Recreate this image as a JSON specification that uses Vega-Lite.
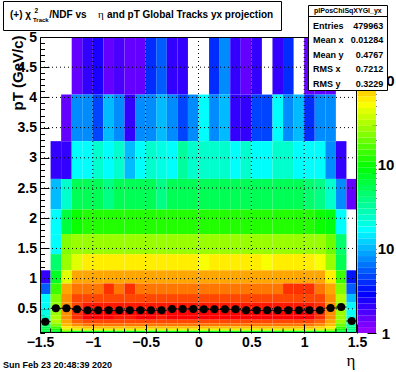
{
"$schema":"https://vega.github.io/schema/vega-lite/v6.json",
"width":317,"height":296,
"autosize":{"type":"none"},
"padding":{"left":40,"top":37,"right":39,"bottom":39},
"background":"white",
"config":{"view":{"stroke":null},
"axis":{"grid":false,"domain":false,"zindex":1,"tickColor":"black","tickWidth":1,"labelColor":"black","labelFont":"Liberation Sans","labelFontWeight":"bold","labelFlush":false,"labelOverlap":false,"labelBound":false,"titleColor":"black","titleFont":"Liberation Sans"},
"text":{"font":"Liberation Sans","color":"black"}},
"datasets":{
"cells":[
{"x0":-1.2,"x1":-1.1,"y0":4.047,"y1":5,"n":1.5},{"x0":-1.1,"x1":-1,"y0":4.047,"y1":5,"n":2.08},{"x0":-1,"x1":-0.9,"y0":4.047,"y1":5,"n":2.44},{"x0":-0.9,"x1":-0.8,"y0":4.047,"y1":5,"n":1.5},{"x0":-0.8,"x1":-0.7,"y0":4.047,"y1":5,"n":1.76},{"x0":-0.7,"x1":-0.6,"y0":4.047,"y1":5,"n":1.5},{"x0":-0.6,"x1":-0.5,"y0":4.047,"y1":5,"n":1.5},{"x0":-0.5,"x1":-0.4,"y0":4.047,"y1":5,"n":3.97},{"x0":-0.4,"x1":-0.3,"y0":4.047,"y1":5,"n":5.5},{"x0":-0.3,"x1":-0.2,"y0":4.047,"y1":5,"n":2.08},{"x0":-0.2,"x1":-0.1,"y0":4.047,"y1":5,"n":2.08},{"x0":0.1,"x1":0.2,"y0":4.047,"y1":5,"n":3.97},{"x0":0.2,"x1":0.3,"y0":4.047,"y1":5,"n":7.6},{"x0":0.3,"x1":0.4,"y0":4.047,"y1":5,"n":2.08},{"x0":0.4,"x1":0.5,"y0":4.047,"y1":5,"n":1.5},{"x0":0.5,"x1":0.6,"y0":4.047,"y1":5,"n":2.08},{"x0":0.7,"x1":0.8,"y0":4.047,"y1":5,"n":2.08},{"x0":0.8,"x1":0.9,"y0":4.047,"y1":5,"n":3.97},{"x0":1,"x1":1.1,"y0":4.047,"y1":5,"n":1.5},{"x0":1.1,"x1":1.2,"y0":4.047,"y1":5,"n":1.5},{"x0":1.2,"x1":1.3,"y0":4.047,"y1":5,"n":1.5},
{"x0":-1.3,"x1":-1.2,"y0":3.276,"y1":4.047,"n":1.5},{"x0":-1.2,"x1":-1.1,"y0":3.276,"y1":4.047,"n":7.6},{"x0":-1.1,"x1":-1,"y0":3.276,"y1":4.047,"n":7.6},{"x0":-1,"x1":-0.9,"y0":3.276,"y1":4.047,"n":4.67},{"x0":-0.9,"x1":-0.8,"y0":3.276,"y1":4.047,"n":10.5},{"x0":-0.8,"x1":-0.7,"y0":3.276,"y1":4.047,"n":7.6},{"x0":-0.7,"x1":-0.6,"y0":3.276,"y1":4.047,"n":2.08},{"x0":-0.6,"x1":-0.5,"y0":3.276,"y1":4.047,"n":7.6},{"x0":-0.5,"x1":-0.4,"y0":3.276,"y1":4.047,"n":7.6},{"x0":-0.4,"x1":-0.3,"y0":3.276,"y1":4.047,"n":10.5},{"x0":-0.3,"x1":-0.2,"y0":3.276,"y1":4.047,"n":7.6},{"x0":-0.2,"x1":-0.1,"y0":3.276,"y1":4.047,"n":4.67},{"x0":-0.1,"x1":0,"y0":3.276,"y1":4.047,"n":7.6},{"x0":0,"x1":0.1,"y0":3.276,"y1":4.047,"n":17.1},{"x0":0.1,"x1":0.2,"y0":3.276,"y1":4.047,"n":7.6},{"x0":0.2,"x1":0.3,"y0":3.276,"y1":4.047,"n":10.5},{"x0":0.3,"x1":0.4,"y0":3.276,"y1":4.047,"n":2.08},{"x0":0.4,"x1":0.5,"y0":3.276,"y1":4.047,"n":2.08},{"x0":0.5,"x1":0.6,"y0":3.276,"y1":4.047,"n":4.67},{"x0":0.6,"x1":0.7,"y0":3.276,"y1":4.047,"n":4.67},{"x0":0.7,"x1":0.8,"y0":3.276,"y1":4.047,"n":17.1},{"x0":0.8,"x1":0.9,"y0":3.276,"y1":4.047,"n":7.6},{"x0":0.9,"x1":1,"y0":3.276,"y1":4.047,"n":10.5},{"x0":1,"x1":1.1,"y0":3.276,"y1":4.047,"n":3.97},{"x0":1.1,"x1":1.2,"y0":3.276,"y1":4.047,"n":7.6},{"x0":1.2,"x1":1.3,"y0":3.276,"y1":4.047,"n":7.6},
{"x0":-1.4,"x1":-1.3,"y0":2.651,"y1":3.276,"n":2.08},{"x0":-1.3,"x1":-1.2,"y0":2.651,"y1":3.276,"n":2.08},{"x0":-1.2,"x1":-1.1,"y0":2.651,"y1":3.276,"n":17.1},{"x0":-1.1,"x1":-1,"y0":2.651,"y1":3.276,"n":17.1},{"x0":-1,"x1":-0.9,"y0":2.651,"y1":3.276,"n":23.7},{"x0":-0.9,"x1":-0.8,"y0":2.651,"y1":3.276,"n":17.1},{"x0":-0.8,"x1":-0.7,"y0":2.651,"y1":3.276,"n":23.7},{"x0":-0.7,"x1":-0.6,"y0":2.651,"y1":3.276,"n":10.5},{"x0":-0.6,"x1":-0.5,"y0":2.651,"y1":3.276,"n":17.1},{"x0":-0.5,"x1":-0.4,"y0":2.651,"y1":3.276,"n":23.7},{"x0":-0.4,"x1":-0.3,"y0":2.651,"y1":3.276,"n":20.1},{"x0":-0.3,"x1":-0.2,"y0":2.651,"y1":3.276,"n":17.1},{"x0":-0.2,"x1":-0.1,"y0":2.651,"y1":3.276,"n":32.7},{"x0":-0.1,"x1":0,"y0":2.651,"y1":3.276,"n":23.7},{"x0":0,"x1":0.1,"y0":2.651,"y1":3.276,"n":23.7},{"x0":0.1,"x1":0.2,"y0":2.651,"y1":3.276,"n":23.7},{"x0":0.2,"x1":0.3,"y0":2.651,"y1":3.276,"n":23.7},{"x0":0.3,"x1":0.4,"y0":2.651,"y1":3.276,"n":17.1},{"x0":0.4,"x1":0.5,"y0":2.651,"y1":3.276,"n":23.7},{"x0":0.5,"x1":0.6,"y0":2.651,"y1":3.276,"n":17.1},{"x0":0.6,"x1":0.7,"y0":2.651,"y1":3.276,"n":17.1},{"x0":0.7,"x1":0.8,"y0":2.651,"y1":3.276,"n":23.7},{"x0":0.8,"x1":0.9,"y0":2.651,"y1":3.276,"n":23.7},{"x0":0.9,"x1":1,"y0":2.651,"y1":3.276,"n":17.1},{"x0":1,"x1":1.1,"y0":2.651,"y1":3.276,"n":17.1},{"x0":1.1,"x1":1.2,"y0":2.651,"y1":3.276,"n":17.1},{"x0":1.2,"x1":1.3,"y0":2.651,"y1":3.276,"n":7.6},{"x0":1.3,"x1":1.4,"y0":2.651,"y1":3.276,"n":2.08},
{"x0":-1.4,"x1":-1.3,"y0":2.146,"y1":2.651,"n":10.5},{"x0":-1.3,"x1":-1.2,"y0":2.146,"y1":2.651,"n":23.7},{"x0":-1.2,"x1":-1.1,"y0":2.146,"y1":2.651,"n":53.3},{"x0":-1.1,"x1":-1,"y0":2.146,"y1":2.651,"n":53.3},{"x0":-1,"x1":-0.9,"y0":2.146,"y1":2.651,"n":53.3},{"x0":-0.9,"x1":-0.8,"y0":2.146,"y1":2.651,"n":38.5},{"x0":-0.8,"x1":-0.7,"y0":2.146,"y1":2.651,"n":53.3},{"x0":-0.7,"x1":-0.6,"y0":2.146,"y1":2.651,"n":53.3},{"x0":-0.6,"x1":-0.5,"y0":2.146,"y1":2.651,"n":53.3},{"x0":-0.5,"x1":-0.4,"y0":2.146,"y1":2.651,"n":53.3},{"x0":-0.4,"x1":-0.3,"y0":2.146,"y1":2.651,"n":38.5},{"x0":-0.3,"x1":-0.2,"y0":2.146,"y1":2.651,"n":53.3},{"x0":-0.2,"x1":-0.1,"y0":2.146,"y1":2.651,"n":53.3},{"x0":-0.1,"x1":0,"y0":2.146,"y1":2.651,"n":53.3},{"x0":0,"x1":0.1,"y0":2.146,"y1":2.651,"n":53.3},{"x0":0.1,"x1":0.2,"y0":2.146,"y1":2.651,"n":53.3},{"x0":0.2,"x1":0.3,"y0":2.146,"y1":2.651,"n":53.3},{"x0":0.3,"x1":0.4,"y0":2.146,"y1":2.651,"n":53.3},{"x0":0.4,"x1":0.5,"y0":2.146,"y1":2.651,"n":53.3},{"x0":0.5,"x1":0.6,"y0":2.146,"y1":2.651,"n":53.3},{"x0":0.6,"x1":0.7,"y0":2.146,"y1":2.651,"n":53.3},{"x0":0.7,"x1":0.8,"y0":2.146,"y1":2.651,"n":53.3},{"x0":0.8,"x1":0.9,"y0":2.146,"y1":2.651,"n":53.3},{"x0":0.9,"x1":1,"y0":2.146,"y1":2.651,"n":53.3},{"x0":1,"x1":1.1,"y0":2.146,"y1":2.651,"n":45.3},{"x0":1.1,"x1":1.2,"y0":2.146,"y1":2.651,"n":38.5},{"x0":1.2,"x1":1.3,"y0":2.146,"y1":2.651,"n":23.7},{"x0":1.3,"x1":1.4,"y0":2.146,"y1":2.651,"n":7.6},{"x0":1.4,"x1":1.5,"y0":2.146,"y1":2.651,"n":1.5},
{"x0":-1.4,"x1":-1.3,"y0":1.737,"y1":2.146,"n":17.1},{"x0":-1.3,"x1":-1.2,"y0":1.737,"y1":2.146,"n":62.7},{"x0":-1.2,"x1":-1.1,"y0":1.737,"y1":2.146,"n":102},{"x0":-1.1,"x1":-1,"y0":1.737,"y1":2.146,"n":120},{"x0":-1,"x1":-0.9,"y0":1.737,"y1":2.146,"n":120},{"x0":-0.9,"x1":-0.8,"y0":1.737,"y1":2.146,"n":120},{"x0":-0.8,"x1":-0.7,"y0":1.737,"y1":2.146,"n":120},{"x0":-0.7,"x1":-0.6,"y0":1.737,"y1":2.146,"n":120},{"x0":-0.6,"x1":-0.5,"y0":1.737,"y1":2.146,"n":120},{"x0":-0.5,"x1":-0.4,"y0":1.737,"y1":2.146,"n":120},{"x0":-0.4,"x1":-0.3,"y0":1.737,"y1":2.146,"n":120},{"x0":-0.3,"x1":-0.2,"y0":1.737,"y1":2.146,"n":120},{"x0":-0.2,"x1":-0.1,"y0":1.737,"y1":2.146,"n":120},{"x0":-0.1,"x1":0,"y0":1.737,"y1":2.146,"n":120},{"x0":0,"x1":0.1,"y0":1.737,"y1":2.146,"n":120},{"x0":0.1,"x1":0.2,"y0":1.737,"y1":2.146,"n":120},{"x0":0.2,"x1":0.3,"y0":1.737,"y1":2.146,"n":120},{"x0":0.3,"x1":0.4,"y0":1.737,"y1":2.146,"n":120},{"x0":0.4,"x1":0.5,"y0":1.737,"y1":2.146,"n":120},{"x0":0.5,"x1":0.6,"y0":1.737,"y1":2.146,"n":120},{"x0":0.6,"x1":0.7,"y0":1.737,"y1":2.146,"n":120},{"x0":0.7,"x1":0.8,"y0":1.737,"y1":2.146,"n":120},{"x0":0.8,"x1":0.9,"y0":1.737,"y1":2.146,"n":120},{"x0":0.9,"x1":1,"y0":1.737,"y1":2.146,"n":120},{"x0":1,"x1":1.1,"y0":1.737,"y1":2.146,"n":120},{"x0":1.1,"x1":1.2,"y0":1.737,"y1":2.146,"n":102},{"x0":1.2,"x1":1.3,"y0":1.737,"y1":2.146,"n":86.7},{"x0":1.3,"x1":1.4,"y0":1.737,"y1":2.146,"n":17.1},
{"x0":-1.4,"x1":-1.3,"y0":1.406,"y1":1.737,"n":17.1},{"x0":-1.3,"x1":-1.2,"y0":1.406,"y1":1.737,"n":230},{"x0":-1.2,"x1":-1.1,"y0":1.406,"y1":1.737,"n":270},{"x0":-1.1,"x1":-1,"y0":1.406,"y1":1.737,"n":270},{"x0":-1,"x1":-0.9,"y0":1.406,"y1":1.737,"n":270},{"x0":-0.9,"x1":-0.8,"y0":1.406,"y1":1.737,"n":270},{"x0":-0.8,"x1":-0.7,"y0":1.406,"y1":1.737,"n":270},{"x0":-0.7,"x1":-0.6,"y0":1.406,"y1":1.737,"n":270},{"x0":-0.6,"x1":-0.5,"y0":1.406,"y1":1.737,"n":270},{"x0":-0.5,"x1":-0.4,"y0":1.406,"y1":1.737,"n":270},{"x0":-0.4,"x1":-0.3,"y0":1.406,"y1":1.737,"n":270},{"x0":-0.3,"x1":-0.2,"y0":1.406,"y1":1.737,"n":270},{"x0":-0.2,"x1":-0.1,"y0":1.406,"y1":1.737,"n":270},{"x0":-0.1,"x1":0,"y0":1.406,"y1":1.737,"n":270},{"x0":0,"x1":0.1,"y0":1.406,"y1":1.737,"n":270},{"x0":0.1,"x1":0.2,"y0":1.406,"y1":1.737,"n":270},{"x0":0.2,"x1":0.3,"y0":1.406,"y1":1.737,"n":270},{"x0":0.3,"x1":0.4,"y0":1.406,"y1":1.737,"n":270},{"x0":0.4,"x1":0.5,"y0":1.406,"y1":1.737,"n":270},{"x0":0.5,"x1":0.6,"y0":1.406,"y1":1.737,"n":270},{"x0":0.6,"x1":0.7,"y0":1.406,"y1":1.737,"n":270},{"x0":0.7,"x1":0.8,"y0":1.406,"y1":1.737,"n":270},{"x0":0.8,"x1":0.9,"y0":1.406,"y1":1.737,"n":270},{"x0":0.9,"x1":1,"y0":1.406,"y1":1.737,"n":270},{"x0":1,"x1":1.1,"y0":1.406,"y1":1.737,"n":270},{"x0":1.1,"x1":1.2,"y0":1.406,"y1":1.737,"n":270},{"x0":1.2,"x1":1.3,"y0":1.406,"y1":1.737,"n":195},{"x0":1.3,"x1":1.4,"y0":1.406,"y1":1.737,"n":45.3},
{"x0":-1.4,"x1":-1.3,"y0":1.138,"y1":1.406,"n":45.3},{"x0":-1.3,"x1":-1.2,"y0":1.138,"y1":1.406,"n":270},{"x0":-1.2,"x1":-1.1,"y0":1.138,"y1":1.406,"n":439},{"x0":-1.1,"x1":-1,"y0":1.138,"y1":1.406,"n":608},{"x0":-1,"x1":-0.9,"y0":1.138,"y1":1.406,"n":608},{"x0":-0.9,"x1":-0.8,"y0":1.138,"y1":1.406,"n":608},{"x0":-0.8,"x1":-0.7,"y0":1.138,"y1":1.406,"n":608},{"x0":-0.7,"x1":-0.6,"y0":1.138,"y1":1.406,"n":608},{"x0":-0.6,"x1":-0.5,"y0":1.138,"y1":1.406,"n":608},{"x0":-0.5,"x1":-0.4,"y0":1.138,"y1":1.406,"n":608},{"x0":-0.4,"x1":-0.3,"y0":1.138,"y1":1.406,"n":608},{"x0":-0.3,"x1":-0.2,"y0":1.138,"y1":1.406,"n":608},{"x0":-0.2,"x1":-0.1,"y0":1.138,"y1":1.406,"n":608},{"x0":-0.1,"x1":0,"y0":1.138,"y1":1.406,"n":608},{"x0":0,"x1":0.1,"y0":1.138,"y1":1.406,"n":517},{"x0":0.1,"x1":0.2,"y0":1.138,"y1":1.406,"n":608},{"x0":0.2,"x1":0.3,"y0":1.138,"y1":1.406,"n":608},{"x0":0.3,"x1":0.4,"y0":1.138,"y1":1.406,"n":608},{"x0":0.4,"x1":0.5,"y0":1.138,"y1":1.406,"n":608},{"x0":0.5,"x1":0.6,"y0":1.138,"y1":1.406,"n":608},{"x0":0.6,"x1":0.7,"y0":1.138,"y1":1.406,"n":517},{"x0":0.7,"x1":0.8,"y0":1.138,"y1":1.406,"n":608},{"x0":0.8,"x1":0.9,"y0":1.138,"y1":1.406,"n":608},{"x0":0.9,"x1":1,"y0":1.138,"y1":1.406,"n":608},{"x0":1,"x1":1.1,"y0":1.138,"y1":1.406,"n":608},{"x0":1.1,"x1":1.2,"y0":1.138,"y1":1.406,"n":517},{"x0":1.2,"x1":1.3,"y0":1.138,"y1":1.406,"n":270},{"x0":1.3,"x1":1.4,"y0":1.138,"y1":1.406,"n":53.3},
{"x0":-1.5,"x1":-1.4,"y0":0.921,"y1":1.138,"n":2.08},{"x0":-1.4,"x1":-1.3,"y0":0.921,"y1":1.138,"n":73.7},{"x0":-1.3,"x1":-1.2,"y0":0.921,"y1":1.138,"n":439},{"x0":-1.2,"x1":-1.1,"y0":0.921,"y1":1.138,"n":989},{"x0":-1.1,"x1":-1,"y0":0.921,"y1":1.138,"n":989},{"x0":-1,"x1":-0.9,"y0":0.921,"y1":1.138,"n":989},{"x0":-0.9,"x1":-0.8,"y0":0.921,"y1":1.138,"n":989},{"x0":-0.8,"x1":-0.7,"y0":0.921,"y1":1.138,"n":989},{"x0":-0.7,"x1":-0.6,"y0":0.921,"y1":1.138,"n":989},{"x0":-0.6,"x1":-0.5,"y0":0.921,"y1":1.138,"n":989},{"x0":-0.5,"x1":-0.4,"y0":0.921,"y1":1.138,"n":989},{"x0":-0.4,"x1":-0.3,"y0":0.921,"y1":1.138,"n":989},{"x0":-0.3,"x1":-0.2,"y0":0.921,"y1":1.138,"n":989},{"x0":-0.2,"x1":-0.1,"y0":0.921,"y1":1.138,"n":989},{"x0":-0.1,"x1":0,"y0":0.921,"y1":1.138,"n":989},{"x0":0,"x1":0.1,"y0":0.921,"y1":1.138,"n":989},{"x0":0.1,"x1":0.2,"y0":0.921,"y1":1.138,"n":989},{"x0":0.2,"x1":0.3,"y0":0.921,"y1":1.138,"n":989},{"x0":0.3,"x1":0.4,"y0":0.921,"y1":1.138,"n":989},{"x0":0.4,"x1":0.5,"y0":0.921,"y1":1.138,"n":989},{"x0":0.5,"x1":0.6,"y0":0.921,"y1":1.138,"n":989},{"x0":0.6,"x1":0.7,"y0":0.921,"y1":1.138,"n":989},{"x0":0.7,"x1":0.8,"y0":0.921,"y1":1.138,"n":989},{"x0":0.8,"x1":0.9,"y0":0.921,"y1":1.138,"n":989},{"x0":0.9,"x1":1,"y0":0.921,"y1":1.138,"n":989},{"x0":1,"x1":1.1,"y0":0.921,"y1":1.138,"n":989},{"x0":1.1,"x1":1.2,"y0":0.921,"y1":1.138,"n":989},{"x0":1.2,"x1":1.3,"y0":0.921,"y1":1.138,"n":608},{"x0":1.3,"x1":1.4,"y0":0.921,"y1":1.138,"n":141},{"x0":1.4,"x1":1.5,"y0":0.921,"y1":1.138,"n":3.38},
{"x0":-1.5,"x1":-1.4,"y0":0.745,"y1":0.921,"n":5.5},{"x0":-1.4,"x1":-1.3,"y0":0.745,"y1":0.921,"n":141},{"x0":-1.3,"x1":-1.2,"y0":0.745,"y1":0.921,"n":989},{"x0":-1.2,"x1":-1.1,"y0":0.745,"y1":0.921,"n":1368},{"x0":-1.1,"x1":-1,"y0":0.745,"y1":0.921,"n":1368},{"x0":-1,"x1":-0.9,"y0":0.745,"y1":0.921,"n":1368},{"x0":-0.9,"x1":-0.8,"y0":0.745,"y1":0.921,"n":2226},{"x0":-0.8,"x1":-0.7,"y0":0.745,"y1":0.921,"n":1368},{"x0":-0.7,"x1":-0.6,"y0":0.745,"y1":0.921,"n":2226},{"x0":-0.6,"x1":-0.5,"y0":0.745,"y1":0.921,"n":1368},{"x0":-0.5,"x1":-0.4,"y0":0.745,"y1":0.921,"n":1368},{"x0":-0.4,"x1":-0.3,"y0":0.745,"y1":0.921,"n":1368},{"x0":-0.3,"x1":-0.2,"y0":0.745,"y1":0.921,"n":1368},{"x0":-0.2,"x1":-0.1,"y0":0.745,"y1":0.921,"n":1368},{"x0":-0.1,"x1":0,"y0":0.745,"y1":0.921,"n":1368},{"x0":0,"x1":0.1,"y0":0.745,"y1":0.921,"n":1368},{"x0":0.1,"x1":0.2,"y0":0.745,"y1":0.921,"n":1368},{"x0":0.2,"x1":0.3,"y0":0.745,"y1":0.921,"n":1368},{"x0":0.3,"x1":0.4,"y0":0.745,"y1":0.921,"n":1368},{"x0":0.4,"x1":0.5,"y0":0.745,"y1":0.921,"n":1368},{"x0":0.5,"x1":0.6,"y0":0.745,"y1":0.921,"n":1368},{"x0":0.6,"x1":0.7,"y0":0.745,"y1":0.921,"n":1368},{"x0":0.7,"x1":0.8,"y0":0.745,"y1":0.921,"n":1368},{"x0":0.8,"x1":0.9,"y0":0.745,"y1":0.921,"n":2226},{"x0":0.9,"x1":1,"y0":0.745,"y1":0.921,"n":2226},{"x0":1,"x1":1.1,"y0":0.745,"y1":0.921,"n":2226},{"x0":1.1,"x1":1.2,"y0":0.745,"y1":0.921,"n":1368},{"x0":1.2,"x1":1.3,"y0":0.745,"y1":0.921,"n":989},{"x0":1.3,"x1":1.4,"y0":0.745,"y1":0.921,"n":230},{"x0":1.4,"x1":1.5,"y0":0.745,"y1":0.921,"n":5.5},
{"x0":-1.5,"x1":-1.4,"y0":0.603,"y1":0.745,"n":17.1},{"x0":-1.4,"x1":-1.3,"y0":0.603,"y1":0.745,"n":230},{"x0":-1.3,"x1":-1.2,"y0":0.603,"y1":0.745,"n":1163},{"x0":-1.2,"x1":-1.1,"y0":0.603,"y1":0.745,"n":1893},{"x0":-1.1,"x1":-1,"y0":0.603,"y1":0.745,"n":1893},{"x0":-1,"x1":-0.9,"y0":0.603,"y1":0.745,"n":1893},{"x0":-0.9,"x1":-0.8,"y0":0.603,"y1":0.745,"n":1893},{"x0":-0.8,"x1":-0.7,"y0":0.603,"y1":0.745,"n":1893},{"x0":-0.7,"x1":-0.6,"y0":0.603,"y1":0.745,"n":1893},{"x0":-0.6,"x1":-0.5,"y0":0.603,"y1":0.745,"n":1893},{"x0":-0.5,"x1":-0.4,"y0":0.603,"y1":0.745,"n":1893},{"x0":-0.4,"x1":-0.3,"y0":0.603,"y1":0.745,"n":1893},{"x0":-0.3,"x1":-0.2,"y0":0.603,"y1":0.745,"n":1893},{"x0":-0.2,"x1":-0.1,"y0":0.603,"y1":0.745,"n":1893},{"x0":-0.1,"x1":0,"y0":0.603,"y1":0.745,"n":1893},{"x0":0,"x1":0.1,"y0":0.603,"y1":0.745,"n":1893},{"x0":0.1,"x1":0.2,"y0":0.603,"y1":0.745,"n":1893},{"x0":0.2,"x1":0.3,"y0":0.603,"y1":0.745,"n":1893},{"x0":0.3,"x1":0.4,"y0":0.603,"y1":0.745,"n":1893},{"x0":0.4,"x1":0.5,"y0":0.603,"y1":0.745,"n":1893},{"x0":0.5,"x1":0.6,"y0":0.603,"y1":0.745,"n":1893},{"x0":0.6,"x1":0.7,"y0":0.603,"y1":0.745,"n":1893},{"x0":0.7,"x1":0.8,"y0":0.603,"y1":0.745,"n":1893},{"x0":0.8,"x1":0.9,"y0":0.603,"y1":0.745,"n":1893},{"x0":0.9,"x1":1,"y0":0.603,"y1":0.745,"n":1893},{"x0":1,"x1":1.1,"y0":0.603,"y1":0.745,"n":1893},{"x0":1.1,"x1":1.2,"y0":0.603,"y1":0.745,"n":1893},{"x0":1.2,"x1":1.3,"y0":0.603,"y1":0.745,"n":1163},{"x0":1.3,"x1":1.4,"y0":0.603,"y1":0.745,"n":318},{"x0":1.4,"x1":1.5,"y0":0.603,"y1":0.745,"n":10.5},
{"x0":-1.5,"x1":-1.4,"y0":0.488,"y1":0.603,"n":17.1},{"x0":-1.4,"x1":-1.3,"y0":0.488,"y1":0.603,"n":270},{"x0":-1.3,"x1":-1.2,"y0":0.488,"y1":0.603,"n":1163},{"x0":-1.2,"x1":-1.1,"y0":0.488,"y1":0.603,"n":1893},{"x0":-1.1,"x1":-1,"y0":0.488,"y1":0.603,"n":2618},{"x0":-1,"x1":-0.9,"y0":0.488,"y1":0.603,"n":2618},{"x0":-0.9,"x1":-0.8,"y0":0.488,"y1":0.603,"n":2618},{"x0":-0.8,"x1":-0.7,"y0":0.488,"y1":0.603,"n":2618},{"x0":-0.7,"x1":-0.6,"y0":0.488,"y1":0.603,"n":2618},{"x0":-0.6,"x1":-0.5,"y0":0.488,"y1":0.603,"n":2618},{"x0":-0.5,"x1":-0.4,"y0":0.488,"y1":0.603,"n":2618},{"x0":-0.4,"x1":-0.3,"y0":0.488,"y1":0.603,"n":2618},{"x0":-0.3,"x1":-0.2,"y0":0.488,"y1":0.603,"n":2618},{"x0":-0.2,"x1":-0.1,"y0":0.488,"y1":0.603,"n":2618},{"x0":-0.1,"x1":0,"y0":0.488,"y1":0.603,"n":2618},{"x0":0,"x1":0.1,"y0":0.488,"y1":0.603,"n":2618},{"x0":0.1,"x1":0.2,"y0":0.488,"y1":0.603,"n":2618},{"x0":0.2,"x1":0.3,"y0":0.488,"y1":0.603,"n":2618},{"x0":0.3,"x1":0.4,"y0":0.488,"y1":0.603,"n":2618},{"x0":0.4,"x1":0.5,"y0":0.488,"y1":0.603,"n":2618},{"x0":0.5,"x1":0.6,"y0":0.488,"y1":0.603,"n":2618},{"x0":0.6,"x1":0.7,"y0":0.488,"y1":0.603,"n":2618},{"x0":0.7,"x1":0.8,"y0":0.488,"y1":0.603,"n":2618},{"x0":0.8,"x1":0.9,"y0":0.488,"y1":0.603,"n":2618},{"x0":0.9,"x1":1,"y0":0.488,"y1":0.603,"n":2618},{"x0":1,"x1":1.1,"y0":0.488,"y1":0.603,"n":2618},{"x0":1.1,"x1":1.2,"y0":0.488,"y1":0.603,"n":2226},{"x0":1.2,"x1":1.3,"y0":0.488,"y1":0.603,"n":1163},{"x0":1.3,"x1":1.4,"y0":0.488,"y1":0.603,"n":270},{"x0":1.4,"x1":1.5,"y0":0.488,"y1":0.603,"n":17.1},
{"x0":-1.5,"x1":-1.4,"y0":0.395,"y1":0.488,"n":20.1},{"x0":-1.4,"x1":-1.3,"y0":0.395,"y1":0.488,"n":270},{"x0":-1.3,"x1":-1.2,"y0":0.395,"y1":0.488,"n":1163},{"x0":-1.2,"x1":-1.1,"y0":0.395,"y1":0.488,"n":2226},{"x0":-1.1,"x1":-1,"y0":0.395,"y1":0.488,"n":3080},{"x0":-1,"x1":-0.9,"y0":0.395,"y1":0.488,"n":3080},{"x0":-0.9,"x1":-0.8,"y0":0.395,"y1":0.488,"n":3080},{"x0":-0.8,"x1":-0.7,"y0":0.395,"y1":0.488,"n":3080},{"x0":-0.7,"x1":-0.6,"y0":0.395,"y1":0.488,"n":3080},{"x0":-0.6,"x1":-0.5,"y0":0.395,"y1":0.488,"n":3080},{"x0":-0.5,"x1":-0.4,"y0":0.395,"y1":0.488,"n":3080},{"x0":-0.4,"x1":-0.3,"y0":0.395,"y1":0.488,"n":3080},{"x0":-0.3,"x1":-0.2,"y0":0.395,"y1":0.488,"n":3080},{"x0":-0.2,"x1":-0.1,"y0":0.395,"y1":0.488,"n":3080},{"x0":-0.1,"x1":0,"y0":0.395,"y1":0.488,"n":3080},{"x0":0,"x1":0.1,"y0":0.395,"y1":0.488,"n":3080},{"x0":0.1,"x1":0.2,"y0":0.395,"y1":0.488,"n":3080},{"x0":0.2,"x1":0.3,"y0":0.395,"y1":0.488,"n":3080},{"x0":0.3,"x1":0.4,"y0":0.395,"y1":0.488,"n":3080},{"x0":0.4,"x1":0.5,"y0":0.395,"y1":0.488,"n":3080},{"x0":0.5,"x1":0.6,"y0":0.395,"y1":0.488,"n":3080},{"x0":0.6,"x1":0.7,"y0":0.395,"y1":0.488,"n":3080},{"x0":0.7,"x1":0.8,"y0":0.395,"y1":0.488,"n":3080},{"x0":0.8,"x1":0.9,"y0":0.395,"y1":0.488,"n":3080},{"x0":0.9,"x1":1,"y0":0.395,"y1":0.488,"n":3080},{"x0":1,"x1":1.1,"y0":0.395,"y1":0.488,"n":3080},{"x0":1.1,"x1":1.2,"y0":0.395,"y1":0.488,"n":2226},{"x0":1.2,"x1":1.3,"y0":0.395,"y1":0.488,"n":1163},{"x0":1.3,"x1":1.4,"y0":0.395,"y1":0.488,"n":270},{"x0":1.4,"x1":1.5,"y0":0.395,"y1":0.488,"n":17.1},
{"x0":-1.5,"x1":-1.4,"y0":0.32,"y1":0.395,"n":23.7},{"x0":-1.4,"x1":-1.3,"y0":0.32,"y1":0.395,"n":318},{"x0":-1.3,"x1":-1.2,"y0":0.32,"y1":0.395,"n":1163},{"x0":-1.2,"x1":-1.1,"y0":0.32,"y1":0.395,"n":2226},{"x0":-1.1,"x1":-1,"y0":0.32,"y1":0.395,"n":3080},{"x0":-1,"x1":-0.9,"y0":0.32,"y1":0.395,"n":3080},{"x0":-0.9,"x1":-0.8,"y0":0.32,"y1":0.395,"n":3080},{"x0":-0.8,"x1":-0.7,"y0":0.32,"y1":0.395,"n":2618},{"x0":-0.7,"x1":-0.6,"y0":0.32,"y1":0.395,"n":2618},{"x0":-0.6,"x1":-0.5,"y0":0.32,"y1":0.395,"n":3080},{"x0":-0.5,"x1":-0.4,"y0":0.32,"y1":0.395,"n":3080},{"x0":-0.4,"x1":-0.3,"y0":0.32,"y1":0.395,"n":2618},{"x0":-0.3,"x1":-0.2,"y0":0.32,"y1":0.395,"n":3080},{"x0":-0.2,"x1":-0.1,"y0":0.32,"y1":0.395,"n":3080},{"x0":-0.1,"x1":0,"y0":0.32,"y1":0.395,"n":3080},{"x0":0,"x1":0.1,"y0":0.32,"y1":0.395,"n":3080},{"x0":0.1,"x1":0.2,"y0":0.32,"y1":0.395,"n":3080},{"x0":0.2,"x1":0.3,"y0":0.32,"y1":0.395,"n":3080},{"x0":0.3,"x1":0.4,"y0":0.32,"y1":0.395,"n":3080},{"x0":0.4,"x1":0.5,"y0":0.32,"y1":0.395,"n":3080},{"x0":0.5,"x1":0.6,"y0":0.32,"y1":0.395,"n":3080},{"x0":0.6,"x1":0.7,"y0":0.32,"y1":0.395,"n":3080},{"x0":0.7,"x1":0.8,"y0":0.32,"y1":0.395,"n":3080},{"x0":0.8,"x1":0.9,"y0":0.32,"y1":0.395,"n":3080},{"x0":0.9,"x1":1,"y0":0.32,"y1":0.395,"n":3080},{"x0":1,"x1":1.1,"y0":0.32,"y1":0.395,"n":3080},{"x0":1.1,"x1":1.2,"y0":0.32,"y1":0.395,"n":2226},{"x0":1.2,"x1":1.3,"y0":0.32,"y1":0.395,"n":1163},{"x0":1.3,"x1":1.4,"y0":0.32,"y1":0.395,"n":270},{"x0":1.4,"x1":1.5,"y0":0.32,"y1":0.395,"n":20.1},
{"x0":-1.5,"x1":-1.4,"y0":0.259,"y1":0.32,"n":32.7},{"x0":-1.4,"x1":-1.3,"y0":0.259,"y1":0.32,"n":318},{"x0":-1.3,"x1":-1.2,"y0":0.259,"y1":0.32,"n":989},{"x0":-1.2,"x1":-1.1,"y0":0.259,"y1":0.32,"n":1609},{"x0":-1.1,"x1":-1,"y0":0.259,"y1":0.32,"n":1893},{"x0":-1,"x1":-0.9,"y0":0.259,"y1":0.32,"n":1893},{"x0":-0.9,"x1":-0.8,"y0":0.259,"y1":0.32,"n":1893},{"x0":-0.8,"x1":-0.7,"y0":0.259,"y1":0.32,"n":1893},{"x0":-0.7,"x1":-0.6,"y0":0.259,"y1":0.32,"n":1893},{"x0":-0.6,"x1":-0.5,"y0":0.259,"y1":0.32,"n":1893},{"x0":-0.5,"x1":-0.4,"y0":0.259,"y1":0.32,"n":1893},{"x0":-0.4,"x1":-0.3,"y0":0.259,"y1":0.32,"n":1893},{"x0":-0.3,"x1":-0.2,"y0":0.259,"y1":0.32,"n":1893},{"x0":-0.2,"x1":-0.1,"y0":0.259,"y1":0.32,"n":1893},{"x0":-0.1,"x1":0,"y0":0.259,"y1":0.32,"n":1893},{"x0":0,"x1":0.1,"y0":0.259,"y1":0.32,"n":1893},{"x0":0.1,"x1":0.2,"y0":0.259,"y1":0.32,"n":1893},{"x0":0.2,"x1":0.3,"y0":0.259,"y1":0.32,"n":1893},{"x0":0.3,"x1":0.4,"y0":0.259,"y1":0.32,"n":1893},{"x0":0.4,"x1":0.5,"y0":0.259,"y1":0.32,"n":1893},{"x0":0.5,"x1":0.6,"y0":0.259,"y1":0.32,"n":1893},{"x0":0.6,"x1":0.7,"y0":0.259,"y1":0.32,"n":1893},{"x0":0.7,"x1":0.8,"y0":0.259,"y1":0.32,"n":1893},{"x0":0.8,"x1":0.9,"y0":0.259,"y1":0.32,"n":1893},{"x0":0.9,"x1":1,"y0":0.259,"y1":0.32,"n":1893},{"x0":1,"x1":1.1,"y0":0.259,"y1":0.32,"n":1893},{"x0":1.1,"x1":1.2,"y0":0.259,"y1":0.32,"n":1609},{"x0":1.2,"x1":1.3,"y0":0.259,"y1":0.32,"n":989},{"x0":1.3,"x1":1.4,"y0":0.259,"y1":0.32,"n":270},{"x0":1.4,"x1":1.5,"y0":0.259,"y1":0.32,"n":23.7},
{"x0":-1.5,"x1":-1.4,"y0":0.21,"y1":0.259,"n":45.3},{"x0":-1.4,"x1":-1.3,"y0":0.21,"y1":0.259,"n":230},{"x0":-1.3,"x1":-1.2,"y0":0.21,"y1":0.259,"n":841},{"x0":-1.2,"x1":-1.1,"y0":0.21,"y1":0.259,"n":1163},{"x0":-1.1,"x1":-1,"y0":0.21,"y1":0.259,"n":1368},{"x0":-1,"x1":-0.9,"y0":0.21,"y1":0.259,"n":1368},{"x0":-0.9,"x1":-0.8,"y0":0.21,"y1":0.259,"n":1368},{"x0":-0.8,"x1":-0.7,"y0":0.21,"y1":0.259,"n":1368},{"x0":-0.7,"x1":-0.6,"y0":0.21,"y1":0.259,"n":1368},{"x0":-0.6,"x1":-0.5,"y0":0.21,"y1":0.259,"n":1368},{"x0":-0.5,"x1":-0.4,"y0":0.21,"y1":0.259,"n":1368},{"x0":-0.4,"x1":-0.3,"y0":0.21,"y1":0.259,"n":1368},{"x0":-0.3,"x1":-0.2,"y0":0.21,"y1":0.259,"n":1368},{"x0":-0.2,"x1":-0.1,"y0":0.21,"y1":0.259,"n":1368},{"x0":-0.1,"x1":0,"y0":0.21,"y1":0.259,"n":1368},{"x0":0,"x1":0.1,"y0":0.21,"y1":0.259,"n":1368},{"x0":0.1,"x1":0.2,"y0":0.21,"y1":0.259,"n":1368},{"x0":0.2,"x1":0.3,"y0":0.21,"y1":0.259,"n":1368},{"x0":0.3,"x1":0.4,"y0":0.21,"y1":0.259,"n":1368},{"x0":0.4,"x1":0.5,"y0":0.21,"y1":0.259,"n":1368},{"x0":0.5,"x1":0.6,"y0":0.21,"y1":0.259,"n":1368},{"x0":0.6,"x1":0.7,"y0":0.21,"y1":0.259,"n":1368},{"x0":0.7,"x1":0.8,"y0":0.21,"y1":0.259,"n":1368},{"x0":0.8,"x1":0.9,"y0":0.21,"y1":0.259,"n":1368},{"x0":0.9,"x1":1,"y0":0.21,"y1":0.259,"n":1368},{"x0":1,"x1":1.1,"y0":0.21,"y1":0.259,"n":1368},{"x0":1.1,"x1":1.2,"y0":0.21,"y1":0.259,"n":1163},{"x0":1.2,"x1":1.3,"y0":0.21,"y1":0.259,"n":841},{"x0":1.3,"x1":1.4,"y0":0.21,"y1":0.259,"n":195},{"x0":1.4,"x1":1.5,"y0":0.21,"y1":0.259,"n":27.8},
{"x0":-1.5,"x1":-1.4,"y0":0.17,"y1":0.21,"n":53.3},{"x0":-1.4,"x1":-1.3,"y0":0.17,"y1":0.21,"n":141},{"x0":-1.3,"x1":-1.2,"y0":0.17,"y1":0.21,"n":608},{"x0":-1.2,"x1":-1.1,"y0":0.17,"y1":0.21,"n":715},{"x0":-1.1,"x1":-1,"y0":0.17,"y1":0.21,"n":841},{"x0":-1,"x1":-0.9,"y0":0.17,"y1":0.21,"n":841},{"x0":-0.9,"x1":-0.8,"y0":0.17,"y1":0.21,"n":841},{"x0":-0.8,"x1":-0.7,"y0":0.17,"y1":0.21,"n":841},{"x0":-0.7,"x1":-0.6,"y0":0.17,"y1":0.21,"n":841},{"x0":-0.6,"x1":-0.5,"y0":0.17,"y1":0.21,"n":841},{"x0":-0.5,"x1":-0.4,"y0":0.17,"y1":0.21,"n":841},{"x0":-0.4,"x1":-0.3,"y0":0.17,"y1":0.21,"n":841},{"x0":-0.3,"x1":-0.2,"y0":0.17,"y1":0.21,"n":841},{"x0":-0.2,"x1":-0.1,"y0":0.17,"y1":0.21,"n":841},{"x0":-0.1,"x1":0,"y0":0.17,"y1":0.21,"n":841},{"x0":0,"x1":0.1,"y0":0.17,"y1":0.21,"n":841},{"x0":0.1,"x1":0.2,"y0":0.17,"y1":0.21,"n":841},{"x0":0.2,"x1":0.3,"y0":0.17,"y1":0.21,"n":841},{"x0":0.3,"x1":0.4,"y0":0.17,"y1":0.21,"n":841},{"x0":0.4,"x1":0.5,"y0":0.17,"y1":0.21,"n":841},{"x0":0.5,"x1":0.6,"y0":0.17,"y1":0.21,"n":841},{"x0":0.6,"x1":0.7,"y0":0.17,"y1":0.21,"n":841},{"x0":0.7,"x1":0.8,"y0":0.17,"y1":0.21,"n":841},{"x0":0.8,"x1":0.9,"y0":0.17,"y1":0.21,"n":841},{"x0":0.9,"x1":1,"y0":0.17,"y1":0.21,"n":841},{"x0":1,"x1":1.1,"y0":0.17,"y1":0.21,"n":841},{"x0":1.1,"x1":1.2,"y0":0.17,"y1":0.21,"n":715},{"x0":1.2,"x1":1.3,"y0":0.17,"y1":0.21,"n":608},{"x0":1.3,"x1":1.4,"y0":0.17,"y1":0.21,"n":141},{"x0":1.4,"x1":1.5,"y0":0.17,"y1":0.21,"n":38.5},
{"x0":-1.5,"x1":-1.4,"y0":0.137,"y1":0.17,"n":62.7},{"x0":-1.4,"x1":-1.3,"y0":0.137,"y1":0.17,"n":102},{"x0":-1.3,"x1":-1.2,"y0":0.137,"y1":0.17,"n":374},{"x0":-1.2,"x1":-1.1,"y0":0.137,"y1":0.17,"n":439},{"x0":-1.1,"x1":-1,"y0":0.137,"y1":0.17,"n":439},{"x0":-1,"x1":-0.9,"y0":0.137,"y1":0.17,"n":439},{"x0":-0.9,"x1":-0.8,"y0":0.137,"y1":0.17,"n":439},{"x0":-0.8,"x1":-0.7,"y0":0.137,"y1":0.17,"n":439},{"x0":-0.7,"x1":-0.6,"y0":0.137,"y1":0.17,"n":439},{"x0":-0.6,"x1":-0.5,"y0":0.137,"y1":0.17,"n":439},{"x0":-0.5,"x1":-0.4,"y0":0.137,"y1":0.17,"n":439},{"x0":-0.4,"x1":-0.3,"y0":0.137,"y1":0.17,"n":439},{"x0":-0.3,"x1":-0.2,"y0":0.137,"y1":0.17,"n":439},{"x0":-0.2,"x1":-0.1,"y0":0.137,"y1":0.17,"n":439},{"x0":-0.1,"x1":0,"y0":0.137,"y1":0.17,"n":439},{"x0":0,"x1":0.1,"y0":0.137,"y1":0.17,"n":439},{"x0":0.1,"x1":0.2,"y0":0.137,"y1":0.17,"n":439},{"x0":0.2,"x1":0.3,"y0":0.137,"y1":0.17,"n":439},{"x0":0.3,"x1":0.4,"y0":0.137,"y1":0.17,"n":439},{"x0":0.4,"x1":0.5,"y0":0.137,"y1":0.17,"n":439},{"x0":0.5,"x1":0.6,"y0":0.137,"y1":0.17,"n":439},{"x0":0.6,"x1":0.7,"y0":0.137,"y1":0.17,"n":439},{"x0":0.7,"x1":0.8,"y0":0.137,"y1":0.17,"n":439},{"x0":0.8,"x1":0.9,"y0":0.137,"y1":0.17,"n":439},{"x0":0.9,"x1":1,"y0":0.137,"y1":0.17,"n":439},{"x0":1,"x1":1.1,"y0":0.137,"y1":0.17,"n":439},{"x0":1.1,"x1":1.2,"y0":0.137,"y1":0.17,"n":439},{"x0":1.2,"x1":1.3,"y0":0.137,"y1":0.17,"n":318},{"x0":1.3,"x1":1.4,"y0":0.137,"y1":0.17,"n":102},{"x0":1.4,"x1":1.5,"y0":0.137,"y1":0.17,"n":38.5},
{"x0":-1.5,"x1":-1.4,"y0":0.111,"y1":0.137,"n":53.3},{"x0":-1.4,"x1":-1.3,"y0":0.111,"y1":0.137,"n":62.7},{"x0":-1.3,"x1":-1.2,"y0":0.111,"y1":0.137,"n":141},{"x0":-1.2,"x1":-1.1,"y0":0.111,"y1":0.137,"n":73.7},{"x0":-1.1,"x1":-1,"y0":0.111,"y1":0.137,"n":73.7},{"x0":-1,"x1":-0.9,"y0":0.111,"y1":0.137,"n":73.7},{"x0":-0.9,"x1":-0.8,"y0":0.111,"y1":0.137,"n":73.7},{"x0":-0.8,"x1":-0.7,"y0":0.111,"y1":0.137,"n":73.7},{"x0":-0.7,"x1":-0.6,"y0":0.111,"y1":0.137,"n":73.7},{"x0":-0.6,"x1":-0.5,"y0":0.111,"y1":0.137,"n":73.7},{"x0":-0.5,"x1":-0.4,"y0":0.111,"y1":0.137,"n":73.7},{"x0":-0.4,"x1":-0.3,"y0":0.111,"y1":0.137,"n":73.7},{"x0":-0.3,"x1":-0.2,"y0":0.111,"y1":0.137,"n":73.7},{"x0":-0.2,"x1":-0.1,"y0":0.111,"y1":0.137,"n":73.7},{"x0":-0.1,"x1":0,"y0":0.111,"y1":0.137,"n":73.7},{"x0":0,"x1":0.1,"y0":0.111,"y1":0.137,"n":73.7},{"x0":0.1,"x1":0.2,"y0":0.111,"y1":0.137,"n":73.7},{"x0":0.2,"x1":0.3,"y0":0.111,"y1":0.137,"n":73.7},{"x0":0.3,"x1":0.4,"y0":0.111,"y1":0.137,"n":73.7},{"x0":0.4,"x1":0.5,"y0":0.111,"y1":0.137,"n":73.7},{"x0":0.5,"x1":0.6,"y0":0.111,"y1":0.137,"n":73.7},{"x0":0.6,"x1":0.7,"y0":0.111,"y1":0.137,"n":73.7},{"x0":0.7,"x1":0.8,"y0":0.111,"y1":0.137,"n":73.7},{"x0":0.8,"x1":0.9,"y0":0.111,"y1":0.137,"n":73.7},{"x0":0.9,"x1":1,"y0":0.111,"y1":0.137,"n":73.7},{"x0":1,"x1":1.1,"y0":0.111,"y1":0.137,"n":73.7},{"x0":1.1,"x1":1.2,"y0":0.111,"y1":0.137,"n":73.7},{"x0":1.2,"x1":1.3,"y0":0.111,"y1":0.137,"n":102},{"x0":1.3,"x1":1.4,"y0":0.111,"y1":0.137,"n":62.7},{"x0":1.4,"x1":1.5,"y0":0.111,"y1":0.137,"n":32.7},
{"x0":-1.5,"x1":-1.4,"y0":0.1,"y1":0.111,"n":38.5},{"x0":-1.4,"x1":-1.3,"y0":0.1,"y1":0.111,"n":27.8},{"x0":-1.3,"x1":-1.2,"y0":0.1,"y1":0.111,"n":27.8},{"x0":-1.2,"x1":-1.1,"y0":0.1,"y1":0.111,"n":5.5},{"x0":-1.1,"x1":-1,"y0":0.1,"y1":0.111,"n":5.5},{"x0":-1,"x1":-0.9,"y0":0.1,"y1":0.111,"n":5.5},{"x0":-0.9,"x1":-0.8,"y0":0.1,"y1":0.111,"n":5.5},{"x0":-0.8,"x1":-0.7,"y0":0.1,"y1":0.111,"n":5.5},{"x0":-0.7,"x1":-0.6,"y0":0.1,"y1":0.111,"n":5.5},{"x0":-0.6,"x1":-0.5,"y0":0.1,"y1":0.111,"n":5.5},{"x0":-0.5,"x1":-0.4,"y0":0.1,"y1":0.111,"n":5.5},{"x0":-0.4,"x1":-0.3,"y0":0.1,"y1":0.111,"n":5.5},{"x0":-0.3,"x1":-0.2,"y0":0.1,"y1":0.111,"n":5.5},{"x0":-0.2,"x1":-0.1,"y0":0.1,"y1":0.111,"n":5.5},{"x0":-0.1,"x1":0,"y0":0.1,"y1":0.111,"n":5.5},{"x0":0,"x1":0.1,"y0":0.1,"y1":0.111,"n":5.5},{"x0":0.1,"x1":0.2,"y0":0.1,"y1":0.111,"n":5.5},{"x0":0.2,"x1":0.3,"y0":0.1,"y1":0.111,"n":5.5},{"x0":0.3,"x1":0.4,"y0":0.1,"y1":0.111,"n":5.5},{"x0":0.4,"x1":0.5,"y0":0.1,"y1":0.111,"n":5.5},{"x0":0.5,"x1":0.6,"y0":0.1,"y1":0.111,"n":5.5},{"x0":0.6,"x1":0.7,"y0":0.1,"y1":0.111,"n":5.5},{"x0":0.7,"x1":0.8,"y0":0.1,"y1":0.111,"n":5.5},{"x0":0.8,"x1":0.9,"y0":0.1,"y1":0.111,"n":5.5},{"x0":0.9,"x1":1,"y0":0.1,"y1":0.111,"n":5.5},{"x0":1,"x1":1.1,"y0":0.1,"y1":0.111,"n":5.5},{"x0":1.1,"x1":1.2,"y0":0.1,"y1":0.111,"n":5.5},{"x0":1.2,"x1":1.3,"y0":0.1,"y1":0.111,"n":27.8},{"x0":1.3,"x1":1.4,"y0":0.1,"y1":0.111,"n":27.8},{"x0":1.4,"x1":1.5,"y0":0.1,"y1":0.111,"n":23.7}
],
"prof":[
{"e":-1.45,"lo":-1.5,"hi":-1.4,"m":0.287},{"e":-1.35,"lo":-1.4,"hi":-1.3,"m":0.509},{"e":-1.25,"lo":-1.3,"hi":-1.2,"m":0.509},{"e":-1.15,"lo":-1.2,"hi":-1.1,"m":0.492},{"e":-1.05,"lo":-1.1,"hi":-1,"m":0.476},{"e":-0.95,"lo":-1,"hi":-0.9,"m":0.476},{"e":-0.85,"lo":-0.9,"hi":-0.8,"m":0.476},{"e":-0.75,"lo":-0.8,"hi":-0.7,"m":0.476},{"e":-0.65,"lo":-0.7,"hi":-0.6,"m":0.476},{"e":-0.55,"lo":-0.6,"hi":-0.5,"m":0.476},{"e":-0.45,"lo":-0.5,"hi":-0.4,"m":0.476},{"e":-0.35,"lo":-0.4,"hi":-0.3,"m":0.476},{"e":-0.25,"lo":-0.3,"hi":-0.2,"m":0.497},{"e":-0.15,"lo":-0.2,"hi":-0.1,"m":0.497},{"e":-0.05,"lo":-0.1,"hi":0,"m":0.497},{"e":0.05,"lo":0,"hi":0.1,"m":0.492},{"e":0.15,"lo":0.1,"hi":0.2,"m":0.492},{"e":0.25,"lo":0.2,"hi":0.3,"m":0.492},{"e":0.35,"lo":0.3,"hi":0.4,"m":0.492},{"e":0.45,"lo":0.4,"hi":0.5,"m":0.476},{"e":0.55,"lo":0.5,"hi":0.6,"m":0.476},{"e":0.65,"lo":0.6,"hi":0.7,"m":0.476},{"e":0.75,"lo":0.7,"hi":0.8,"m":0.476},{"e":0.85,"lo":0.8,"hi":0.9,"m":0.476},{"e":0.95,"lo":0.9,"hi":1,"m":0.476},{"e":1.05,"lo":1,"hi":1.1,"m":0.476},{"e":1.15,"lo":1.1,"hi":1.2,"m":0.476},{"e":1.25,"lo":1.2,"hi":1.3,"m":0.514},{"e":1.35,"lo":1.3,"hi":1.4,"m":0.53},{"e":1.45,"lo":1.4,"hi":1.5,"m":0.299}
],
"bar":[
{"z0":1,"z1":1.1762,"zc":1.0845},{"z0":1.1762,"z1":1.3834,"zc":1.2756},{"z0":1.3834,"z1":1.6271,"zc":1.5003},{"z0":1.6271,"z1":1.9138,"zc":1.7647},{"z0":1.9138,"z1":2.251,"zc":2.0756},{"z0":2.251,"z1":2.6476,"zc":2.4412},{"z0":2.6476,"z1":3.114,"zc":2.8713},{"z0":3.114,"z1":3.6627,"zc":3.3773},{"z0":3.6627,"z1":4.308,"zc":3.9723},{"z0":4.308,"z1":5.067,"zc":4.6721},{"z0":5.067,"z1":5.9597,"zc":5.4953},{"z0":5.9597,"z1":7.0097,"zc":6.4634},{"z0":7.0097,"z1":8.2446,"zc":7.6021},{"z0":8.2446,"z1":9.697,"zc":8.9414},{"z0":9.697,"z1":11.4055,"zc":10.517},{"z0":11.4055,"z1":13.4148,"zc":12.369},{"z0":13.4148,"z1":15.7783,"zc":14.549},{"z0":15.7783,"z1":18.5582,"zc":17.112},{"z0":18.5582,"z1":21.8277,"zc":20.127},{"z0":21.8277,"z1":25.6734,"zc":23.673},{"z0":25.6734,"z1":30.1966,"zc":27.843},{"z0":30.1966,"z1":35.5167,"zc":32.749},{"z0":35.5167,"z1":41.7741,"zc":38.519},{"z0":41.7741,"z1":49.134,"zc":45.305},{"z0":49.134,"z1":57.7906,"zc":53.287},{"z0":57.7906,"z1":67.9723,"zc":62.675},{"z0":67.9723,"z1":79.9477,"zc":73.717},{"z0":79.9477,"z1":94.0333,"zc":86.705},{"z0":94.0333,"z1":110.6,"zc":101.98},{"z0":110.6,"z1":130.087,"zc":119.95},{"z0":130.087,"z1":153.006,"zc":141.08},{"z0":153.006,"z1":179.963,"zc":165.94},{"z0":179.963,"z1":211.669,"zc":195.17},{"z0":211.669,"z1":248.962,"zc":229.56},{"z0":248.962,"z1":292.825,"zc":270.01},{"z0":292.825,"z1":344.416,"zc":317.58},{"z0":344.416,"z1":405.097,"zc":373.53},{"z0":405.097,"z1":476.467,"zc":439.33},{"z0":476.467,"z1":560.413,"zc":516.74},{"z0":560.413,"z1":659.148,"zc":607.78},{"z0":659.148,"z1":775.279,"zc":714.86},{"z0":775.279,"z1":911.869,"zc":840.81},{"z0":911.869,"z1":1072.53,"zc":988.94},{"z0":1072.53,"z1":1261.5,"zc":1163.2},{"z0":1261.5,"z1":1483.75,"zc":1368.1},{"z0":1483.75,"z1":1745.16,"zc":1609.2},{"z0":1745.16,"z1":2052.65,"zc":1892.7},{"z0":2052.65,"z1":2414.28,"zc":2226.1},{"z0":2414.28,"z1":2839.62,"zc":2618.3},{"z0":2839.62,"z1":3340,"zc":3079.6}
]},
"resolve":{"scale":{"y":"independent"}},
"layer":[
{"data":{"name":"cells"},"mark":{"type":"rect"},
"encoding":{
"x":{"field":"x0","type":"quantitative","scale":{"domain":[-1.5,1.5],"nice":false,"zero":false},
"axis":{"values":[-1.5,-1,-0.5,0,0.5,1,1.5],"format":"~g","tickSize":-9,
"labelFontSize":14,"labelPadding":11.5,"labelOverlap":false,"labelFlush":false,"labelBound":false,"grid":false,"domain":false,"tickColor":"black","zindex":1,
"title":"η","titleFont":"Liberation Serif","titleFontSize":17,"titleFontWeight":"normal","titleX":310.5,"titleY":32,"titleAlign":"center","titleBaseline":"alphabetic"}},
"x2":{"field":"x1"},
"y":{"field":"y0","type":"quantitative","scale":{"domain":[0.1,5],"nice":false,"zero":false},
"axis":{"values":[0.1,0.2,0.3,0.4,0.5,0.6,0.7,0.8,0.9,1,1.1,1.2,1.3,1.4,1.5,1.6,1.7,1.8,1.9,2,2.1,2.2,2.3,2.4,2.5,2.6,2.7,2.8,2.9,3,3.1,3.2,3.3,3.4,3.5,3.6,3.7,3.8,3.9,4,4.1,4.2,4.3,4.4,4.5,4.6,4.7,4.8,4.9,5],
"format":"~g","tickSize":{"condition":{"test":"abs(datum.value*2-round(datum.value*2))<0.001","value":-9},"value":-4.5},
"labelExpr":"abs(datum.value*2-round(datum.value*2))<0.001 ? datum.label : ''",
"labelFontSize":14,"labelPadding":12.5,"labelOverlap":false,"labelFlush":false,"labelBound":false,
"title":"pT (GeV/c)","titleFontSize":15,"titleFontWeight":"bold","titleAngle":270,"titleAlign":"right","titleBaseline":"alphabetic","titleX":-18,"titleY":-2}},
"y2":{"field":"y1"},
"color":{"field":"n","type":"quantitative","legend":null,
"scale":{"type":"threshold","domain":[1.1762,1.3834,1.6271,1.9138,2.251,2.6476,3.114,3.6627,4.308,5.067,5.9597,7.0097,8.2446,9.697,11.4055,13.4148,15.7783,18.5582,21.8277,25.6734,30.1966,35.5167,41.7741,49.134,57.7906,67.9723,79.9477,94.0333,110.6,130.087,153.006,179.963,211.669,248.962,292.825,344.416,405.097,476.467,560.413,659.148,775.279,911.869,1072.53,1261.5,1483.75,1745.16,2052.65,2414.28,2839.62],
"range":["#9200ff","#7a00ff","#6300ff","#4b00ff","#3300ff","#1b00ff","#0300ff","#0014ff","#002cff","#0044ff","#005cff","#0074ff","#008bff","#00a3ff","#00bbff","#00d3ff","#00ebff","#00fffc","#00ffe4","#00ffcc","#00ffb4","#00ff9c","#00ff85","#00ff6d","#00ff55","#00ff3d","#00ff25","#00ff0e","#0aff00","#22ff00","#3aff00","#52ff00","#69ff00","#81ff00","#99ff00","#b1ff00","#c9ff00","#e0ff00","#f8ff00","#ffee00","#ffd600","#ffbe00","#ffa700","#ff8f00","#ff7700","#ff5f00","#ff4700","#ff3000","#ff1800","#ff0000"]}}
}},
{"data":{"values":[{"v":-1.4},{"v":-1.3},{"v":-1.2},{"v":-1.1},{"v":-0.9},{"v":-0.8},{"v":-0.7},{"v":-0.6},{"v":-0.4},{"v":-0.3},{"v":-0.2},{"v":-0.1},{"v":0.1},{"v":0.2},{"v":0.3},{"v":0.4},{"v":0.6},{"v":0.7},{"v":0.8},{"v":0.9},{"v":1.1},{"v":1.2},{"v":1.3},{"v":1.4}]},"mark":{"type":"rule","color":"black","strokeWidth":1},
"encoding":{"x":{"field":"v","type":"quantitative"},"y":{"datum":0.1,"type":"quantitative","scale":{"domain":[0.1,5],"nice":false,"zero":false},"axis":null},"y2":{"datum":0.1745}}},
{"data":{"values":[{"v":-1},{"v":-0.5},{"v":0},{"v":0.5},{"v":1}]},"mark":{"type":"rule","color":"black","strokeWidth":1,"strokeDash":[1,3]},
"encoding":{"x":{"field":"v","type":"quantitative"}}},
{"data":{"values":[{"v":0.5},{"v":1},{"v":1.5},{"v":2},{"v":2.5},{"v":3},{"v":3.5},{"v":4},{"v":4.5}]},"mark":{"type":"rule","color":"black","strokeWidth":1,"strokeDash":[1,3]},
"encoding":{"y":{"field":"v","type":"quantitative","scale":{"domain":[0.1,5],"nice":false,"zero":false},"axis":null}}},
{"data":{"values":[{}]},"mark":{"type":"rect","filled":false,"stroke":"black","strokeWidth":1},
"encoding":{"x":{"datum":-1.49527,"type":"quantitative"},"x2":{"datum":1.49527},"y":{"datum":0.10828,"type":"quantitative","scale":{"domain":[0.1,5],"nice":false,"zero":false},"axis":null},"y2":{"datum":4.99172}}},
{"data":{"name":"prof"},"mark":{"type":"rule","color":"black","strokeWidth":1},
"encoding":{"x":{"field":"lo","type":"quantitative"},"x2":{"field":"hi"},"y":{"field":"m","type":"quantitative","scale":{"domain":[0.1,5],"nice":false,"zero":false},"axis":null}}},
{"data":{"name":"prof"},"mark":{"type":"point","shape":"circle","filled":true,"color":"black","size":64,"opacity":1},
"encoding":{"x":{"field":"e","type":"quantitative"},"y":{"field":"m","type":"quantitative","scale":{"domain":[0.1,5],"nice":false,"zero":false},"axis":null}}},
{"data":{"name":"bar"},"mark":{"type":"rect"},
"encoding":{
"x":{"datum":1.505,"type":"quantitative"},
"x2":{"datum":1.68},
"y":{"field":"z0","type":"quantitative","scale":{"type":"log","domain":[1,3340],"nice":false},
"axis":{"orient":"right","offset":19,"values":[1,2,3,4,5,6,7,8,9,10,20,30,40,50,60,70,80,90,100,200,300,400,500,600,700],
"tickSize":{"condition":{"test":"datum.value==1||datum.value==10||datum.value==100||datum.value==1000","value":-9},"value":-4.5},
"labelExpr":"datum.value==1 ? '1' : (datum.value==10||datum.value==100) ? '10' : ''",
"labelAlign":"center","labelBaseline":"middle","labelPadding":18.5,"labelFontSize":15,"labelOverlap":false,"title":null}},
"y2":{"field":"z1"},
"color":{"field":"zc","type":"quantitative","legend":null,
"scale":{"type":"threshold","domain":[1.1762,1.3834,1.6271,1.9138,2.251,2.6476,3.114,3.6627,4.308,5.067,5.9597,7.0097,8.2446,9.697,11.4055,13.4148,15.7783,18.5582,21.8277,25.6734,30.1966,35.5167,41.7741,49.134,57.7906,67.9723,79.9477,94.0333,110.6,130.087,153.006,179.963,211.669,248.962,292.825,344.416,405.097,476.467,560.413,659.148,775.279,911.869,1072.53,1261.5,1483.75,1745.16,2052.65,2414.28,2839.62],
"range":["#9200ff","#7a00ff","#6300ff","#4b00ff","#3300ff","#1b00ff","#0300ff","#0014ff","#002cff","#0044ff","#005cff","#0074ff","#008bff","#00a3ff","#00bbff","#00d3ff","#00ebff","#00fffc","#00ffe4","#00ffcc","#00ffb4","#00ff9c","#00ff85","#00ff6d","#00ff55","#00ff3d","#00ff25","#00ff0e","#0aff00","#22ff00","#3aff00","#52ff00","#69ff00","#81ff00","#99ff00","#b1ff00","#c9ff00","#e0ff00","#f8ff00","#ffee00","#ffd600","#ffbe00","#ffa700","#ff8f00","#ff7700","#ff5f00","#ff4700","#ff3000","#ff1800","#ff0000"]}}
}},
{"data":{"values":[{}]},"mark":{"type":"text","text":"0","align":"center","baseline":"middle","fontSize":15,"fontWeight":"bold"},
"encoding":{"x":{"datum":1.817,"type":"quantitative"},"y":{"datum":4.2716,"type":"quantitative","scale":{"domain":[0.1,5],"nice":false,"zero":false},"axis":null}}},
{"data":{"values":[{}]},"mark":{"type":"rect","fill":"white","stroke":"black","strokeWidth":1},
"encoding":{"x":{"datum":-1.84542,"type":"quantitative"},"x2":{"datum":0.78548},"y":{"datum":5.1076,"type":"quantitative","scale":{"domain":[0.1,5],"nice":false,"zero":false},"axis":null},"y2":{"datum":5.58765}}},
{"data":{"values":[{}]},"mark":{"type":"text","text":"(+) χ","align":"left","baseline":"alphabetic","fontSize":10,"fontWeight":"bold"},
"encoding":{"x":{"datum":-1.7839,"type":"quantitative"},"y":{"datum":5.3096,"type":"quantitative","scale":{"domain":[0.1,5],"nice":false,"zero":false},"axis":null}}},
{"data":{"values":[{}]},"mark":{"type":"text","text":"2","align":"left","baseline":"alphabetic","fontSize":6.5,"fontWeight":"bold"},
"encoding":{"x":{"datum":-1.552,"type":"quantitative"},"y":{"datum":5.397,"type":"quantitative","scale":{"domain":[0.1,5],"nice":false,"zero":false},"axis":null}}},
{"data":{"values":[{}]},"mark":{"type":"text","text":"Track","align":"left","baseline":"alphabetic","fontSize":6,"fontWeight":"bold"},
"encoding":{"x":{"datum":-1.5662,"type":"quantitative"},"y":{"datum":5.2433,"type":"quantitative","scale":{"domain":[0.1,5],"nice":false,"zero":false},"axis":null}}},
{"data":{"values":[{}]},"mark":{"type":"text","text":"/NDF vs","align":"left","baseline":"alphabetic","fontSize":10,"fontWeight":"bold"},
"encoding":{"x":{"datum":-1.412,"type":"quantitative"},"y":{"datum":5.3096,"type":"quantitative","scale":{"domain":[0.1,5],"nice":false,"zero":false},"axis":null}}},
{"data":{"values":[{}]},"mark":{"type":"text","text":"η","align":"left","baseline":"alphabetic","fontSize":11,"font":"Liberation Serif"},
"encoding":{"x":{"datum":-0.9511,"type":"quantitative"},"y":{"datum":5.3096,"type":"quantitative","scale":{"domain":[0.1,5],"nice":false,"zero":false},"axis":null}}},
{"data":{"values":[{}]},"mark":{"type":"text","text":"and pT Global Tracks yx projection","align":"left","baseline":"alphabetic","fontSize":10,"fontWeight":"bold"},
"encoding":{"x":{"datum":-0.8659,"type":"quantitative"},"y":{"datum":5.3096,"type":"quantitative","scale":{"domain":[0.1,5],"nice":false,"zero":false},"axis":null}}},
{"data":{"values":[{}]},"mark":{"type":"rect","fill":"white","stroke":"black","strokeWidth":1},
"encoding":{"x":{"datum":1.04101,"type":"quantitative"},"x2":{"datum":1.7886},"y":{"datum":4.11439,"type":"quantitative","scale":{"domain":[0.1,5],"nice":false,"zero":false},"axis":null},"y2":{"datum":5.52144}}},
{"data":{"values":[{}]},"mark":{"type":"rule","color":"black","strokeWidth":1},
"encoding":{"x":{"datum":1.04101,"type":"quantitative"},"x2":{"datum":1.7886},"y":{"datum":5.33935,"type":"quantitative","scale":{"domain":[0.1,5],"nice":false,"zero":false},"axis":null}}},
{"data":{"values":[{}]},"mark":{"type":"text","text":"plPosChiSqXYGl_yx","align":"center","baseline":"alphabetic","fontSize":7,"fontWeight":"bold"},
"encoding":{"x":{"datum":1.4139,"type":"quantitative"},"y":{"datum":5.4022,"type":"quantitative","scale":{"domain":[0.1,5],"nice":false,"zero":false},"axis":null}}},
{"data":{"values":[{}]},"mark":{"type":"text","text":["Entries","Mean x","Mean y","RMS x","RMS y"],"lineHeight":14.6,"align":"left","baseline":"alphabetic","fontSize":9,"fontWeight":"bold"},
"encoding":{"x":{"datum":1.0836,"type":"quantitative"},"y":{"datum":5.1407,"type":"quantitative","scale":{"domain":[0.1,5],"nice":false,"zero":false},"axis":null}}},
{"data":{"values":[{}]},"mark":{"type":"text","text":["479963","0.01284","0.4767","0.7212","0.3229"],"lineHeight":14.6,"align":"right","baseline":"alphabetic","fontSize":9,"fontWeight":"bold"},
"encoding":{"x":{"datum":1.7489,"type":"quantitative"},"y":{"datum":5.1407,"type":"quantitative","scale":{"domain":[0.1,5],"nice":false,"zero":false},"axis":null}}},
{"data":{"values":[{}]},"mark":{"type":"text","text":"Sun Feb 23 20:48:39 2020","align":"left","baseline":"alphabetic","fontSize":9,"fontWeight":"bold"},
"encoding":{"x":{"datum":-1.8502,"type":"quantitative"},"y":{"datum":-0.4875,"type":"quantitative","scale":{"domain":[0.1,5],"nice":false,"zero":false},"axis":null}}}
]
}
